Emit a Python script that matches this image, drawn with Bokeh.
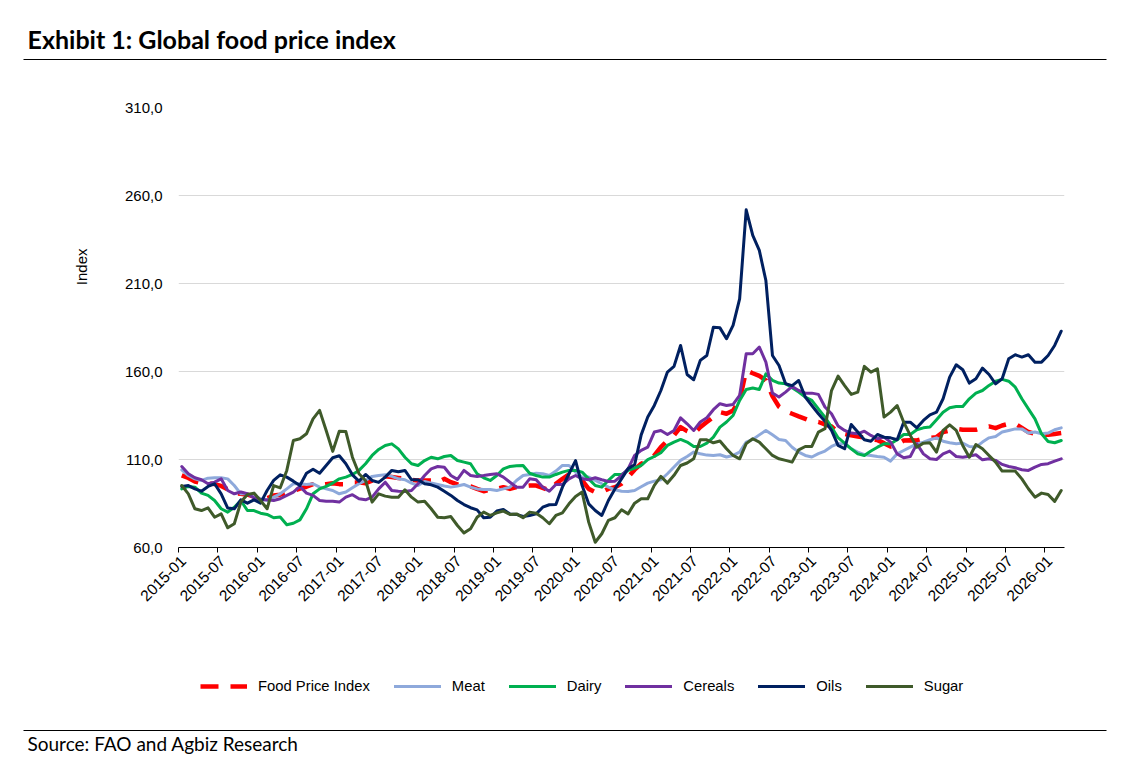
from bokeh.plotting import figure
from bokeh.layouts import column
from bokeh.models import Label, Legend, LegendItem, FixedTicker, ColumnDataSource, LinearAxis
from bokeh.embed import file_html
from bokeh.resources import INLINE
import math

TITLE = "Exhibit 1: Global food price index"
SOURCE = "Source: FAO and Agbiz Research"
Y_LABEL = "Index"
Y_TICKS = [60, 110, 160, 210, 260, 310]
Y_TICK_LABELS = ["60,0", "110,0", "160,0", "210,0", "260,0", "310,0"]
X_TICK_LABELS = ["2015-01", "2015-07", "2016-01", "2016-07", "2017-01", "2017-07", "2018-01", "2018-07",
                 "2019-01", "2019-07", "2020-01", "2020-07", "2021-01", "2021-07", "2022-01", "2022-07",
                 "2023-01", "2023-07", "2024-01", "2024-07", "2025-01", "2025-07", "2026-01"]

food_price_index = [101, 99.5, 97.5, 96.5, 96.5, 96, 95, 93, 91, 90.5, 90, 89, 88, 88, 89.5, 90, 91, 92, 93.5, 94.5,
    96, 95.5, 96, 96.5, 96, 96, 97, 97, 96.5, 98, 100, 100.5, 100, 99.5, 99, 98.5, 98,
    98, 98, 97, 99, 97.1, 95.8, 95.5, 94.7, 93.3, 92, 92.8, 93.3, 94.3, 93.3, 94.3, 94.7, 95.2, 95.2, 93.9, 92.4,
    96.2, 99, 101.5, 100, 98.1, 93.3, 91.5, 91.5, 93.3, 94.3, 96.2,
    100, 104.2, 107.6, 109.5, 112.3, 117, 120.8, 123.7, 128.4, 126.1, 124.6, 128.4, 131.3, 134.1, 136.9, 136, 137.9,
    143.6, 160.6, 159, 157.5, 155, 146, 140, 137.5, 136, 134.5, 133.1, 131.6, 131.3, 129.9, 128.8, 125.6,
    124.6, 123.7, 123, 122.5, 121.5, 121, 119.3, 117.4, 118.5, 120.8, 121, 120.8, 121.8, 122.3, 122.7, 125.6, 126.5,
    127.4, 126.9, 126.9, 126.9, 128, 128.8, 127.8, 129.3, 130.3, 130.3, 128, 125.6, 124.6, 124.2, 124, 124.5, 125]
meat = [104.1, 100.9, 99, 98.1, 99.4, 99.6, 99.6, 99, 95.2, 90.5, 90.5, 89, 87.7, 86.7, 88.6, 90.5, 93.3, 96.2, 96.2,
    95.8, 96.2, 94.3, 93.3, 92.4, 90.5, 91.5, 93.9, 96.2, 98.1, 100.4, 100.9, 101.3, 100.4, 99, 98.5, 96.6, 95.2,
    97.5, 96.6, 95.8, 94.9, 94.3, 94.9, 95.8, 94.3, 93.3, 93, 93, 92.4, 93.3, 94.3, 98.1, 100.9, 101.5, 102.2, 101.9,
    100.9, 103.4, 106.6, 106.6, 102.8, 100, 100, 98.1, 96.2, 94.3, 92.8, 92, 91.8, 92.4,
    94.5, 96.6, 97.7, 98.5, 101.9, 105.7, 109.5, 111.7, 114.2, 113.3, 112.5, 112.3, 112.7, 111.4, 112.3, 114.2, 119.9,
    121.4, 124, 126.5, 124, 121.4, 120.8, 117, 114.2, 112.3, 111.4, 113.3, 114.8, 117.4, 119,
    118.9, 116.1, 114.2, 112.7, 112.3, 111.7, 111.3, 109.1, 113.2, 115.1, 117, 118.9, 119.9, 121.2, 122.3, 120.4, 119.5,
    118.9, 119.3, 117.4, 117, 119.9, 122.3, 123.1, 125.6, 126.5, 127.4, 127.4, 125, 125.6, 124.6, 125, 126.9, 128]
dairy = [93.3, 94.7, 94.3, 90.9, 89.6, 86.7, 82, 80.1, 82.9, 86.7, 81, 81, 79.5, 78.8, 76.9, 77.3, 72.9, 73.8, 75.7, 82,
    90.5, 93.3, 94.7, 96.6, 99, 100, 101.5, 103.8, 107.6, 112.3, 115.7, 118, 118.9, 116, 111.3, 107.6, 106.6,
    109.4, 111.3, 110.4, 111.7, 112.3, 109.4, 108.5, 107.6, 101.9, 99.6, 98.1, 100.9, 104.7, 106, 106.4, 106.6, 102.2,
    100.9, 100, 100, 101.5, 102.8, 103.8, 103.8, 102.8, 99, 95.2, 94.3, 98.1, 101.5,
    101.5, 103.8, 105.1, 106.6, 109.9, 111.7, 113.8, 118, 119.9, 121.4, 119.9, 117.4, 117.4, 119.3, 122.7, 128.4, 131.3,
    135, 143.6, 149.8, 150.6, 149.8, 158.7, 155, 153.4, 153, 150.8, 148.3, 145.5, 143.6, 138.8, 134.1, 128.4, 122.4,
    119.3, 116.1, 113.2, 112.3, 114.8, 117, 118.9, 118.9, 121.2, 124.2, 124.2, 126.9, 128, 128.4, 132.6, 136.9, 139.4,
    140.1, 140.1, 144.5, 147.7, 149.2, 152.1, 154.5, 155.5, 154.5, 151.1, 144.5, 138.8, 133.1, 124.6, 120.2, 119.5, 120.8]
cereals = [106, 101.9, 99.6, 98.5, 96.2, 97.1, 99, 92.4, 90.5, 91.5, 90.5, 88.2, 87.1, 87.1, 86.7, 87.7, 89.6, 91.5, 94.7,
    90.9, 89.6, 86.7, 86.3, 86.3, 85.8, 88.6, 90, 87.7, 87.1, 88.6, 93.3, 97.1, 92.4, 92, 91.8, 92.4, 96.2,
    100.9, 104.7, 106, 105.6, 100.9, 98.7, 103.8, 100.9, 100.4, 100.9, 101.5, 101.9, 100, 97.1, 94.3, 94.3, 99, 98.5, 94.3,
    92, 95.8, 95.8, 99, 100.9, 99, 98.5, 99.6, 98.5, 97.5, 97.7, 100.9, 104.7,
    112.3, 115.2, 117, 125.6, 126.5, 124.2, 126.5, 133.7, 130.3, 126.5, 131.3, 133.7, 138.3, 141.7, 140.7, 141.3, 146.4,
    170.1, 170.1, 173.9, 165.3, 147.7, 145.5, 148.3, 151.5, 149.2, 147.7, 147.7, 147, 139.8, 136, 129,
    126.5, 125, 124.6, 126.1, 123.7, 121.8, 122.7, 119.9, 113.2, 111, 111.7, 118.9, 113.2, 110.4, 110, 113.2, 114.8,
    111.7, 111.3, 111.9, 112.7, 109.8, 110.4, 109.5, 107.2, 106, 105.3, 104.2, 103.8, 105.7, 107.2, 107.6, 109.1, 110.4]
oils = [94.7, 95.2, 93.3, 92, 94.7, 96.2, 90.5, 82.4, 82, 87.1, 85.2, 87.1, 85.2, 92.4, 98.1, 101.3, 100, 97.7, 95.2,
    102.2, 104.5, 102.2, 106.6, 111, 112.1, 107.6, 101.3, 97.7, 101.5, 98.1, 97, 100, 103.8, 103, 103.8, 98.5, 98.5,
    96.2, 95.6, 94.3, 92, 89.6, 86.7, 84.4, 82.6, 81.4, 76.9, 77.2, 80.7, 81.6, 79.1, 78.8, 77.6, 78.2, 79.1, 82.9, 84.3,
    84.4, 94.3, 101.9, 109.4, 95.2, 84.8, 81, 78.2, 86.7, 93.3, 99,
    104.8, 107, 124, 134.1, 140.7, 149.2, 159.7, 162.9, 174.8, 158.3, 155.3, 166.3, 169.1, 185.2, 184.8, 178.6, 186.2,
    201.3, 251.9, 237.3, 228.8, 211.7, 169.1, 163.4, 153, 152, 154.9, 145.5, 140.7, 136, 131.8, 126.5, 118,
    116.1, 129.9, 125.6, 121.2, 120.4, 124.2, 122.7, 122.3, 121.2, 131.2, 131.2, 128, 132.2, 135.4, 136.9, 144.5, 156.8,
    163.8, 161, 153.4, 155.9, 161.9, 158.3, 153, 155.9, 167.2, 169.5, 168.2, 169.5, 165.3, 165.3, 169.1, 174.8, 182.9]
sugar = [95.2, 90.5, 82, 81, 82.5, 77.2, 79.1, 71.2, 73.5, 85.8, 90.1, 90.9, 86.7, 82, 95.2, 93.9, 103.8, 120.8, 121.8,
    124.6, 133.1, 137.9, 126.5, 114.6, 126.1, 125.9, 111.3, 101.9, 98.1, 85.8, 90.5, 89.2, 88.6, 88.6, 92.8, 88.6, 85.8,
    86.3, 82, 77.2, 76.9, 77.6, 72.5, 68.3, 70.6, 77.2, 80.1, 78.2, 79.7, 80.7, 78.8, 79.1, 76.9, 80.1, 79.5, 76.9, 73.5,
    78.2, 79.7, 84.8, 89, 91.5, 74.4, 63, 67.8, 75.4, 76.9, 81.4, 79.1, 85.2, 87.7, 87.7,
    95.3, 100.4, 96.6, 101, 106.6, 108, 110.4, 121.2, 121.2, 119.5, 120.5, 116.1, 112.3, 110.4, 119, 121.8, 119.9, 116.1,
    112.3, 110.4, 109.5, 108.5, 115.5, 117.4, 117.4, 125.6, 127.5, 149.2, 157.4,
    152, 147, 148.3, 162.9, 159.6, 161.5, 134.1, 136.9, 140.7, 131.2, 123.7, 117, 119.3, 119.5, 114.2, 126.5, 129.7,
    126.5, 118, 111.3, 118.5, 116.1, 112.3, 108.5, 103.4, 103.4, 103.4, 99, 93.4, 88.6, 90.9, 90.1, 86.2, 92.4]

SERIES = [("Food Price Index", food_price_index, "#FF0000", 4.5, [18, 12]),
          ("Meat", meat, "#8EA9DB", 3, []),
          ("Dairy", dairy, "#00B050", 3, []),
          ("Cereals", cereals, "#7030A0", 3, []),
          ("Oils", oils, "#002060", 3, []),
          ("Sugar", sugar, "#3F5A2A", 3, [])]

_lens = {s[0]: len(s[1]) for s in SERIES}
assert all(v == 135 for v in _lens.values()), _lens

W = 1131
HEAD_H, MAIN_H, FOOT_H = 80, 560, 128


def strip(height, y_top):
    """Chrome strip whose data coordinates are page pixels (y grows downward)."""
    f = figure(width=W, height=height, output_backend="svg", toolbar_location=None,
               x_range=(0, W), y_range=(y_top + height, y_top),
               x_axis_location=None, y_axis_location=None, frame_align=False,
               min_border=0, min_border_left=0, min_border_right=0, min_border_top=0, min_border_bottom=0)
    f.grid.visible = False
    f.outline_line_color = None
    return f


header = strip(HEAD_H, 0)
header.line([23, 1106], [59, 59], line_color="black", line_width=1)
header.add_layout(Label(x=27, y=53, text=TITLE, text_font="Lato", text_font_size="25px",
                        text_font_style="bold", text_color="black"))

p = figure(width=W, height=MAIN_H, output_backend="svg", toolbar_location=None,
           x_range=(-0.5, 134.5), y_range=(60, 310), frame_align=False,
           min_border_left=178, min_border_right=67, min_border_top=107 - HEAD_H,
           min_border_bottom=HEAD_H + MAIN_H - 547)
p.outline_line_color = None
p.background_fill_color = "white"
p.xgrid.visible = False
p.ygrid.grid_line_color = "#D9D9D9"
p.ygrid.grid_line_width = 1
p.ygrid.ticker = FixedTicker(ticks=Y_TICKS)

ya = p.yaxis[0]
ya.ticker = FixedTicker(ticks=Y_TICKS)
ya.major_label_overrides = dict(zip(Y_TICKS, Y_TICK_LABELS))
ya.axis_line_color = None
ya.major_tick_line_color = None
ya.minor_tick_line_color = None
ya.major_tick_out = 0
ya.major_tick_in = 0
ya.major_label_text_font = "Liberation Sans"
ya.major_label_text_font_size = "15px"
ya.major_label_text_color = "black"
ya.major_label_standoff = 16

# the "Index" caption sits above the middle of the axis, so it is a single rotated tick label
# of a second left axis
index_at = 229.9
yl = LinearAxis(ticker=FixedTicker(ticks=[index_at]), major_label_overrides={index_at: Y_LABEL},
                axis_line_color=None, major_tick_line_color=None, minor_tick_line_color=None,
                major_tick_in=0, major_tick_out=0, major_label_orientation=math.pi / 2,
                major_label_text_font="Liberation Sans", major_label_text_font_size="15px",
                major_label_text_color="black", major_label_standoff=40)
p.add_layout(yl, "left")

# boundary ticks, no labels
xa = p.xaxis[0]
x_ticks = [i * 6 - 0.5 for i in range(len(X_TICK_LABELS))]
xa.ticker = FixedTicker(ticks=x_ticks)
xa.major_label_overrides = {t: "" for t in x_ticks}
xa.axis_line_color = "black"
xa.axis_line_width = 1
xa.major_tick_line_color = "black"
xa.major_tick_in = 0
xa.major_tick_out = 5
xa.minor_tick_line_color = None
xa.major_label_standoff = 0

# labels sit a little to the right of the boundary ticks
x_label_pos = [i * 6 + 0.26 for i in range(len(X_TICK_LABELS))]
xl = LinearAxis(ticker=FixedTicker(ticks=x_label_pos),
                major_label_overrides=dict(zip(x_label_pos, X_TICK_LABELS)),
                axis_line_color=None, major_tick_line_color=None, minor_tick_line_color=None,
                major_tick_in=0, major_tick_out=0, major_label_orientation=math.pi / 4,
                major_label_text_font="Liberation Sans", major_label_text_font_size="15.5px",
                major_label_text_color="black", major_label_standoff=6)
p.add_layout(xl, "below")

footer = strip(FOOT_H, HEAD_H + MAIN_H)
items = []
for name, vals, color, lw, dash in SERIES:
    src = ColumnDataSource(dict(x=list(range(len(vals))), y=vals))
    style = dict(line_color=color, line_width=lw, line_dash=dash, line_join="round",
                 line_cap="round" if not dash else "butt")
    p.line("x", "y", source=src, **style)
    # same data, outside the strip's y range: the renderer only supplies the legend swatch
    swatch = footer.line("x", "y", source=src, **style)
    items.append(LegendItem(label=name, renderers=[swatch]))

legend = Legend(items=items, orientation="horizontal", location=(200, 74),
                glyph_width=47, glyph_height=14, label_standoff=11, spacing=24, margin=0, padding=0,
                border_line_color=None, background_fill_alpha=0,
                label_text_font="Liberation Sans", label_text_font_size="14.8px", label_text_color="black")
footer.add_layout(legend, "center")
footer.line([23, 1106], [730, 730], line_color="black", line_width=1)
footer.add_layout(Label(x=27, y=754, text=SOURCE, text_font="Lato", text_font_size="19px", text_color="black"))

open("out.html", "w").write(file_html(column(header, p, footer, spacing=0), INLINE))
